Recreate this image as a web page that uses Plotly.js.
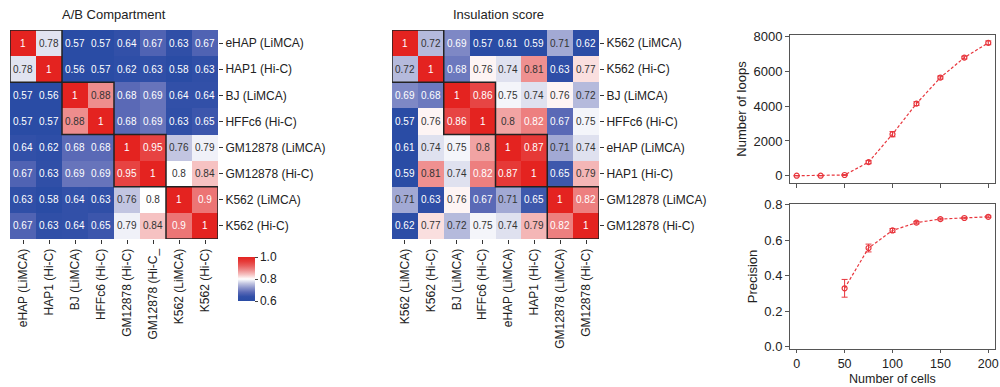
<!DOCTYPE html>
<html>
<head>
<meta charset="utf-8">
<script src="https://cdn.plot.ly/plotly-3.0.1.min.js"></script>
<style>
html,body{margin:0;padding:0;background:#fff;}
#chart{width:1000px;height:387px;}
</style>
</head>
<body>
<div id="chart"></div>
<script>
// ---------- DATA ----------
const abRowLabels = ["eHAP (LiMCA)","HAP1 (Hi-C)","BJ (LiMCA)","HFFc6 (Hi-C)","GM12878 (LiMCA)","GM12878 (Hi-C)","K562 (LiMCA)","K562 (Hi-C)"];
const abColLabels = ["eHAP (LiMCA)","HAP1 (Hi-C)","BJ (LiMCA)","HFFc6 (Hi-C)","GM12878 (Hi-C)","GM12878 (Hi-C_","K562 (LiMCA)","K562 (Hi-C)"];
const abValues = [
  [1,0.78,0.57,0.57,0.64,0.67,0.63,0.67],
  [0.78,1,0.56,0.57,0.62,0.63,0.58,0.63],
  [0.57,0.56,1,0.88,0.68,0.69,0.64,0.64],
  [0.57,0.57,0.88,1,0.68,0.69,0.63,0.65],
  [0.64,0.62,0.68,0.68,1,0.95,0.76,0.79],
  [0.67,0.63,0.69,0.69,0.95,1,0.8,0.84],
  [0.63,0.58,0.64,0.63,0.76,0.8,1,0.9],
  [0.67,0.63,0.64,0.65,0.79,0.84,0.9,1]
];
const insRowLabels = ["K562 (LiMCA)","K562 (Hi-C)","BJ (LiMCA)","HFFc6 (Hi-C)","eHAP (LiMCA)","HAP1 (Hi-C)","GM12878 (LiMCA)","GM12878 (Hi-C)"];
const insColLabels = ["K562 (LiMCA)","K562 (Hi-C)","BJ (LiMCA)","HFFc6 (Hi-C)","eHAP (LiMCA)","HAP1 (Hi-C)","GM12878 (LiMCA)","GM12878 (Hi-C)"];
const insValues = [
  [1,0.72,0.69,0.57,0.61,0.59,0.71,0.62],
  [0.72,1,0.68,0.76,0.74,0.81,0.63,0.77],
  [0.69,0.68,1,0.86,0.75,0.74,0.76,0.72],
  [0.57,0.76,0.86,1,0.8,0.82,0.67,0.75],
  [0.61,0.74,0.75,0.8,1,0.87,0.71,0.74],
  [0.59,0.81,0.74,0.82,0.87,1,0.65,0.79],
  [0.71,0.63,0.76,0.67,0.71,0.65,1,0.82],
  [0.62,0.77,0.72,0.75,0.74,0.79,0.82,1]
];
const cellCounts = [0,25,50,75,100,125,150,175,200];
const loops = [0,0,40,780,2390,4150,5650,6800,7650];
const loopsErr = [10,10,25,90,150,110,90,80,110];
const precCells = [50,75,100,125,150,175,200];
const precision = [0.33,0.557,0.656,0.700,0.720,0.726,0.733];
const precisionErr = [0.05,0.022,0.011,0.007,0.005,0.004,0.005];
const colorbarTicks = [0.6,0.8,1.0];
const colorbarTickText = ["0.6","0.8","1.0"];

// ---------- STYLE ----------
const FONT = "Liberation Sans, Arial, sans-serif";
const RED = "#e8363d";
const cscale = [
  [0, "#2a4ca5"], [0.1, "#3250a8"], [0.2, "#5a69b6"], [0.3, "#8c95cb"],
  [0.4, "#c2c5e1"], [0.45, "#e1e3f0"], [0.5, "#ffffff"], [0.6, "#f6c2c2"],
  [0.7, "#ee8d8d"], [0.8, "#e95e5e"], [0.9, "#e63a38"], [1, "#e42320"]
];
const idx = abRowLabels.map((_, i) => i);
const abRange = [0.6, 1.0];
const insRange = [0.613, 0.897];

function cellAnnotations(vals, range, xr, yr) {
  const out = [];
  vals.forEach((row, r) => row.forEach((v, c) => {
    const f = (v - range[0]) / (range[1] - range[0]);
    const col = (f < 0.3 || f > 0.72) ? "#ffffff" : "#333333";
    out.push({x: c, y: r, xref: xr, yref: yr, text: String(v), showarrow: false,
      font: {family: FONT, size: 10, color: col}});
  }));
  return out;
}
function blockShapes(xr, yr) {
  const s = [];
  for (let b = 0; b < 4; b++) {
    s.push({type: "rect", xref: xr, yref: yr, x0: 2*b-0.5, x1: 2*b+1.5, y0: 2*b-0.5, y1: 2*b+1.5,
      line: {color: "#222", width: 1.5}, fillcolor: "rgba(0,0,0,0)"});
  }
  return s;
}

const traces = [
  {type: "heatmap", z: abValues, x: idx, y: idx, xaxis: "x", yaxis: "y",
   colorscale: cscale, zmin: abRange[0], zmax: abRange[1], hoverinfo: "skip",
   colorbar: {x: 0.228, xanchor: "left", y: 1 - 279/387, yanchor: "middle",
     len: 64, lenmode: "pixels", thickness: 17, thicknessmode: "pixels",
     outlinewidth: 0, ticks: "outside", ticklen: 3, tickcolor: "#444",
     tickvals: colorbarTicks, ticktext: colorbarTickText,
     tickfont: {family: FONT, size: 12, color: "#222"}}},
  {type: "heatmap", z: insValues, x: idx, y: idx, xaxis: "x2", yaxis: "y2",
   colorscale: cscale, zmin: insRange[0], zmax: insRange[1], showscale: false, hoverinfo: "skip"},
  {type: "scatter", mode: "lines+markers", x: cellCounts, y: loops, xaxis: "x3", yaxis: "y3",
   line: {color: RED, width: 1.2, dash: "3px,2px"},
   marker: {symbol: "circle-open", size: 5, color: RED, line: {width: 1.2, color: RED}},
   error_y: {type: "data", array: loopsErr, visible: true, color: RED, thickness: 1, width: 3},
   showlegend: false},
  {type: "scatter", mode: "lines+markers", x: precCells, y: precision, xaxis: "x4", yaxis: "y4",
   line: {color: RED, width: 1.2, dash: "3px,2px"},
   marker: {symbol: "circle-open", size: 5, color: RED, line: {width: 1.2, color: RED}},
   error_y: {type: "data", array: precisionErr, visible: true, color: RED, thickness: 1, width: 3},
   showlegend: false}
];

const hmY = [1 - 239/387, 1 - 30/387];
const tickFont = {family: FONT, size: 12, color: "#222"};
function hmX(dom, labels) {
  return {domain: dom, range: [-0.5, 7.5], tickvals: idx, ticktext: labels, tickangle: -90,
    ticks: "outside", ticklen: 4, tickcolor: "#333", showgrid: false, zeroline: false,
    showline: false, tickfont: tickFont, fixedrange: true};
}
function hmYax(labels, anchor) {
  return {domain: hmY, range: [7.5, -0.5], tickvals: idx, ticktext: labels, side: "right",
    anchor: anchor, ticks: "outside", ticklen: 4, tickcolor: "#333", showgrid: false,
    zeroline: false, showline: false, tickfont: tickFont, fixedrange: true};
}
const lineAx = {showgrid: false, zeroline: false, showline: true, linecolor: "#555", linewidth: 1,
  mirror: true, ticks: "outside", ticklen: 4, tickcolor: "#555", tickfont: {family: FONT, size: 13, color: "#222"}};

const layout = {
  width: 1000, height: 387, margin: {l: 0, r: 0, t: 0, b: 0},
  paper_bgcolor: "#fff", plot_bgcolor: "#fff", showlegend: false,
  font: {family: FONT, color: "#222"},
  xaxis: hmX([0.010, 0.218], abColLabels),
  yaxis: hmYax(abRowLabels, "x"),
  xaxis2: Object.assign(hmX([0.392, 0.599], insColLabels), {anchor: "y2"}),
  yaxis2: hmYax(insRowLabels, "x2"),
  xaxis3: Object.assign({}, lineAx, {domain: [0.790, 0.995], anchor: "y3", range: [-7, 207],
    tickvals: [0,50,100,150,200], showticklabels: false}),
  yaxis3: Object.assign({}, lineAx, {domain: [1 - 183/387, 1 - 35/387], anchor: "x3", range: [-420, 8100],
    tickvals: [0,2000,4000,6000,8000],
    title: {text: "Number of loops", font: {family: FONT, size: 13, color: "#222"}, standoff: 3}}),
  xaxis4: Object.assign({}, lineAx, {domain: [0.790, 0.995], anchor: "y4", range: [-7, 207],
    tickvals: [0,50,100,150,200], ticklen: 3, tickfont: {family: FONT, size: 12.5, color: "#222"}}),
  yaxis4: Object.assign({}, lineAx, {domain: [1 - 349/387, 1 - 204/387], anchor: "x4", range: [-0.012, 0.805],
    tickvals: [0,0.2,0.4,0.6,0.8], tickformat: ".1f",
    title: {text: "Precision", font: {family: FONT, size: 13, color: "#222"}, standoff: 3}}),
  annotations: [
    {text: "A/B Compartment", x: 114/1000, y: 1 - 15/387, xref: "paper", yref: "paper",
     showarrow: false, xanchor: "center", yanchor: "middle", font: {family: FONT, size: 13, color: "#222"}},
    {text: "Insulation score", x: 498/1000, y: 1 - 15/387, xref: "paper", yref: "paper",
     showarrow: false, xanchor: "center", yanchor: "middle", font: {family: FONT, size: 13, color: "#222"}},
    {text: "Number of cells", x: 0.8925, y: 0, xref: "paper", yref: "paper",
     showarrow: false, xanchor: "center", yanchor: "bottom", yshift: -1,
     font: {family: FONT, size: 12.5, color: "#222"}}
  ].concat(cellAnnotations(abValues, abRange, "x", "y"), cellAnnotations(insValues, insRange, "x2", "y2")),
  shapes: blockShapes("x", "y").concat(blockShapes("x2", "y2"))
};

Plotly.newPlot("chart", traces, layout, {staticPlot: true, displayModeBar: false});
</script>
</body>
</html>
